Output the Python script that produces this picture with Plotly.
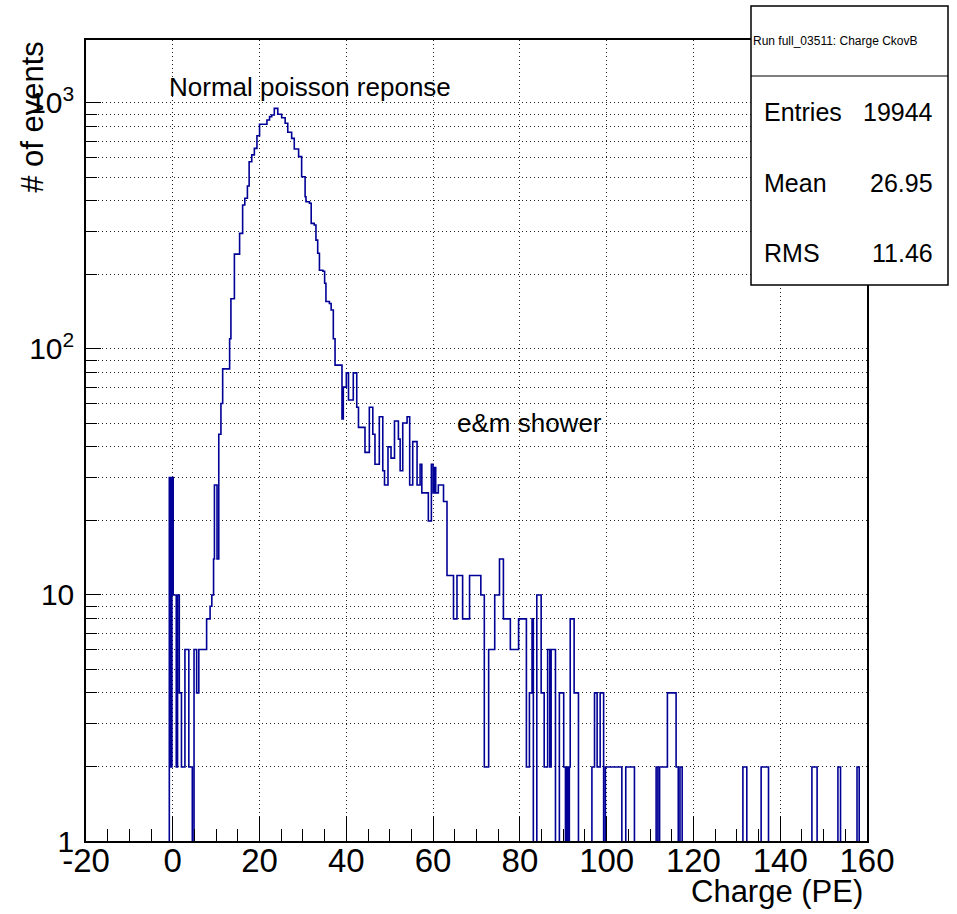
import plotly.graph_objects as go

# ---------------- data ----------------
# Each histogram run: left edge (Charge, PE) and bin content; a run lasts until the next edge.
pedestal_edges = [-0.8, -0.5, -0.2, 0.1, 0.8, 1.1, 1.5, 2.0, 2.8, 3.7, 4.5, 4.9, 5.5, 6.0,
                  7.8, 8.6, 9.0, 9.4, 9.6, 10.2, 10.6, 11.1]
pedestal_counts = [30, 2, 30, 10, 2, 10, 4, 2, 6, 2, 0, 6, 4, 6,
                   8, 9, 10, 14, 28, 14, 45, 60]

peak_edges = [11.5, 13.1, 13.4, 14.2, 15.4, 16.1, 16.6, 17.2, 17.6, 18.2, 18.8, 19.4, 20.0,
              21.7, 22.3, 22.8, 23.4, 24.2, 25.1, 25.9, 26.5, 27.4, 28.0, 29.0, 29.7, 30.5,
              30.7, 31.5, 31.9, 32.6, 33.0, 33.4, 33.8, 34.6, 35.0, 35.3, 36.1, 36.5, 37.0]
peak_counts = [83, 110, 160, 243, 295, 385, 410, 460, 577, 615, 654, 736, 819,
               853, 880, 894, 951, 900, 871, 827, 760, 718, 650, 605, 501, 416,
               397, 391, 324, 319, 277, 245, 209, 207, 185, 156, 153, 144, 110]

shower_edges = [37.4, 39.0, 39.3, 40.0, 40.5, 41.6, 42.4, 42.8, 44.3, 45.3, 46.1, 46.6, 47.6,
                48.4, 48.8, 49.6, 50.3, 51.1, 52.0, 52.4, 53.0, 54.0, 54.6, 55.3, 56.3, 57.0,
                57.4, 58.9, 59.6, 60.0, 60.3, 60.6, 61.2, 62.4]
shower_counts = [86, 52, 70, 80, 62, 80, 58, 48, 38, 58, 45, 34, 53,
                 32, 28, 40, 36, 51, 43, 32, 50, 53, 28, 42, 28, 34,
                 26, 20, 34, 26, 33, 26, 28, 24]

tail_edges = [63.2, 64.7, 65.5, 66.8, 68.4, 71.0, 71.8, 72.8, 74.2, 75.3, 76.2, 77.8, 79.7,
              81.5, 82.2, 82.8, 83.1, 83.9, 84.9, 85.6, 86.4, 86.9, 87.2, 88.2, 89.1, 90.1,
              90.5, 90.8, 91.1, 91.4, 91.6, 92.5, 93.5, 96.6, 97.2, 97.8, 98.5, 99.3, 99.7,
              103.5, 104.4, 106.4, 111.4, 111.8, 112.2, 114.0, 116.0, 116.5, 116.9, 117.4,
              131.4, 132.3, 135.6, 137.3, 147.3, 148.5, 153.3, 153.9, 157.7, 158.2]
tail_counts = [12, 8, 12, 8, 12, 10, 2, 6, 10, 14, 8, 6, 8,
               2, 4, 8, 0, 10, 4, 2, 6, 2, 6, 0, 4, 2,
               0, 2, 0, 2, 8, 4, 0, 2, 4, 2, 4, 0, 2,
               0, 2, 0, 2, 0, 2, 4, 2, 0, 2, 0,
               2, 0, 2, 0, 2, 0, 2, 0, 2, 0]
hist_end = 160.0

x_ticks = [-20, 0, 20, 40, 60, 80, 100, 120, 140, 160]
x_ticktext = ["-20", "0", "20", "40", "60", "80", "100", "120", "140", "160"]
y_ticks = [1, 10, 100, 1000]
y_ticktext = ["1", "10", "10<sup>2</sup>", "10<sup>3</sup>"]

stats_title = "Run full_03511: Charge CkovB"
stats_labels = ["Entries", "Mean", "RMS"]
stats_values = ["19944", "26.95", "11.46"]

# ---------------- build step line ----------------
edges = pedestal_edges + peak_edges + shower_edges + tail_edges
counts = pedestal_counts + peak_counts + shower_counts + tail_counts
FLOOR = 0.5  # empty bins drawn below the log-axis minimum (clipped)
disp = [c if c > 0 else FLOOR for c in counts]
xs = [edges[0]] + edges + [hist_end, hist_end]
ys = [FLOOR] + disp + [disp[-1], FLOOR]

LINE_COLOR = "rgb(0,0,150)"
FONT = "Liberation Sans, Arial, Helvetica, sans-serif"

fig = go.Figure()
fig.add_trace(go.Scatter(x=xs, y=ys, mode="lines",
                         line=dict(shape="hv", color=LINE_COLOR, width=1.6),
                         hoverinfo="skip", showlegend=False))

x_minor = [v for v in range(-20, 161, 5) if v % 20 != 0]
y_minor = [m * 10 ** e for e in range(0, 3) for m in range(2, 10)]

grid_dash = "1px,3px"
fig.update_layout(
    width=957, height=914,
    margin=dict(l=86, r=90, t=40, b=73),
    paper_bgcolor="white", plot_bgcolor="white",
    font=dict(family=FONT, color="black"),
    showlegend=False,
    xaxis=dict(
        range=[-20, 160], tickmode="array", tickvals=x_ticks, ticktext=x_ticktext,
        ticks="inside", ticklen=25, tickwidth=1.2, tickcolor="black",
        showline=True, linecolor="black", linewidth=1.5, mirror=True,
        showgrid=True, gridcolor="#222", gridwidth=1, griddash=grid_dash,
        zeroline=False, tickfont=dict(size=33, family=FONT),
        ticklabelstandoff=-10,
        minor=dict(tickmode="array", tickvals=x_minor, ticks="inside", ticklen=12,
                   tickwidth=1.2, tickcolor="black", showgrid=False),
    ),
    yaxis=dict(
        type="log", range=[0, 3.256], tickmode="array", tickvals=y_ticks, ticktext=y_ticktext,
        ticks="inside", ticklen=15, tickwidth=1.2, tickcolor="black",
        showline=True, linecolor="black", linewidth=1.5, mirror=True,
        showgrid=True, gridcolor="#222", gridwidth=1, griddash=grid_dash,
        zeroline=False, tickfont=dict(size=30, family=FONT),
        ticklabelstandoff=4,
        minor=dict(tickmode="array", tickvals=y_minor, ticks="inside", ticklen=11,
                   tickwidth=1.2, tickcolor="black", showgrid=True,
                   gridcolor="#222", gridwidth=1, griddash=grid_dash),
    ),
)

# axis titles (ROOT style: right / top aligned)
fig.add_annotation(text="Charge (PE)", xref="paper", yref="paper", x=0.9974, y=-0.0625,
                   xanchor="right", yanchor="middle", showarrow=False,
                   font=dict(size=31, family=FONT))
fig.add_annotation(text="# of events", xref="paper", yref="paper", x=-0.0679, y=0.904,
                   xanchor="center", yanchor="middle", textangle=-90, showarrow=False,
                   font=dict(size=31, family=FONT))

# text labels in the pad
fig.add_annotation(text="Normal poisson reponse", xref="paper", yref="paper", x=0.1037, y=0.9413,
                   xanchor="left", yanchor="middle", showarrow=False, font=dict(size=26, family=FONT))
fig.add_annotation(text="e&m shower", xref="paper", yref="paper", x=0.4725, y=0.5218,
                   xanchor="left", yanchor="middle", showarrow=False, font=dict(size=26, family=FONT))

# statistics box
bx0, bx1 = (751 - 86) / 781, (948 - 86) / 781
by0, by1 = (841 - 285) / 801, (841 - 6) / 801
bsep = (841 - 76) / 801
fig.add_shape(type="rect", xref="paper", yref="paper", x0=bx0, x1=bx1, y0=by0, y1=by1,
              line=dict(color="black", width=1.5), fillcolor="white", layer="above")
fig.add_shape(type="line", xref="paper", yref="paper", x0=bx0, x1=bx1, y0=bsep, y1=bsep,
              line=dict(color="black", width=1.2), layer="above")
fig.add_annotation(text=stats_title, xref="paper", yref="paper", x=(835 - 86) / 781,
                   y=(841 - 41) / 801, xanchor="center", yanchor="middle", showarrow=False,
                   font=dict(size=12, family=FONT))
row_y = [112, 183, 253]
for lab, val, yy in zip(stats_labels, stats_values, row_y):
    fig.add_annotation(text=lab, xref="paper", yref="paper", x=(762 - 86) / 781,
                       y=(841 - yy) / 801, xanchor="left", yanchor="middle", showarrow=False,
                       font=dict(size=25, family=FONT))
    fig.add_annotation(text=val, xref="paper", yref="paper", x=(935 - 86) / 781,
                       y=(841 - yy) / 801, xanchor="right", yanchor="middle", showarrow=False,
                       font=dict(size=25, family=FONT))

fig.write_html("out.html")
